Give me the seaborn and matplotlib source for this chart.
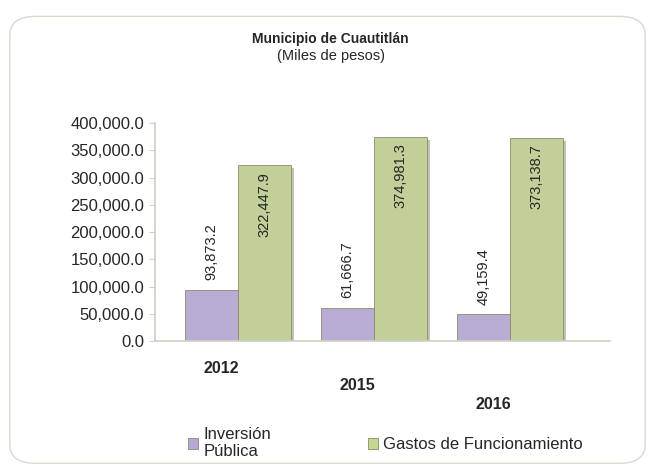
import matplotlib
matplotlib.use("Agg")
import matplotlib.pyplot as plt
import matplotlib.patheffects as pe
import matplotlib.transforms as mtransforms
from matplotlib.patches import FancyBboxPatch
import pandas as pd
import seaborn as sns

years = ["2012", "2015", "2016"]
series = ["Inversión\nPública", "Gastos de Funcionamiento"]
inversion = [93873.2, 61666.7, 49159.4]
gastos = [322447.9, 374981.3, 373138.7]
yticks = [0, 50000, 100000, 150000, 200000, 250000, 300000, 350000, 400000]

df = pd.DataFrame({
    "year": years * 2,
    "serie": [series[0]] * 3 + [series[1]] * 3,
    "valor": inversion + gastos,
})

sns.set_theme(style="white")
plt.rcParams["font.family"] = ["Liberation Sans", "DejaVu Sans"]

fig = plt.figure(figsize=(6.55, 4.68), dpi=100)
# rounded chart frame
fig.patches.append(FancyBboxPatch((0.015, 0.01), 0.97, 0.955, boxstyle="round,pad=0,rounding_size=0.04",
                                  transform=fig.transFigure, fill=False, edgecolor="#d9d9cf", linewidth=1.0))
ax = fig.add_axes([0.237, 0.271, 0.695, 0.466])

colors = ["#b7a6d8", "#c5d88f"]
sns.barplot(data=df, x="year", y="valor", hue="serie", palette=colors, width=0.78,
            edgecolor="#8c8a6e", linewidth=0.6, ax=ax, legend=False)

for bar in ax.patches:
    bar.set_path_effects([pe.SimplePatchShadow(offset=(2, -2), shadow_rgbFace="#9a9a8a", alpha=0.6), pe.Normal()])

# value labels
for i, v in enumerate(inversion):
    ax.text(i - 0.195, v + 18000, f"{v:,.1f}", rotation=90, ha="center", va="bottom", fontsize=10.5)
for i, v in enumerate(gastos):
    ax.text(i + 0.195, v - 12000, f"{v:,.1f}", rotation=90, ha="center", va="top", fontsize=10.5)

ax.set_ylim(0, 400000)
ax.set_xlim(-0.61, 2.74)
ax.set_yticks(yticks)
ax.set_yticklabels([f"{t:,.1f}" for t in yticks], fontsize=12)
ax.set_xlabel("")
ax.set_ylabel("")
ax.tick_params(axis="y", length=4, color="#d0d0c4", width=0.8, pad=4, left=True)
ax.tick_params(axis="x", length=0, pad=14)
# stagger the year labels like the perspective floor of the original
drops = [0, 17, 36]
for lab, d in zip(ax.get_xticklabels(), drops):
    lab.set_fontweight("bold")
    lab.set_fontsize(11.5)
    lab.set_transform(lab.get_transform() + mtransforms.ScaledTranslation(-17 / 100, -d / 100, fig.dpi_scale_trans))
for s in ["top", "right"]:
    ax.spines[s].set_visible(False)
ax.spines["left"].set_color("#d0d0c4")
ax.spines["bottom"].set_color("#d0d0c4")

fig.text(0.505, 0.908, "Municipio de Cuautitlán", ha="center", fontsize=10, fontweight="bold")
fig.text(0.505, 0.871, "(Miles de pesos)", ha="center", fontsize=10.5)

handles = [plt.Rectangle((0, 0), 1, 1, facecolor=c, edgecolor="#8c8a6e", linewidth=0.6) for c in colors]
ax.legend(handles, series, loc="upper left", bbox_to_anchor=(0.04, -0.325), ncol=2, frameon=False,
          fontsize=12, handlelength=0.6, handleheight=0.6, handletextpad=0.3, columnspacing=5.8,
          labelspacing=0.2)

fig.savefig("out.png", dpi=100)
